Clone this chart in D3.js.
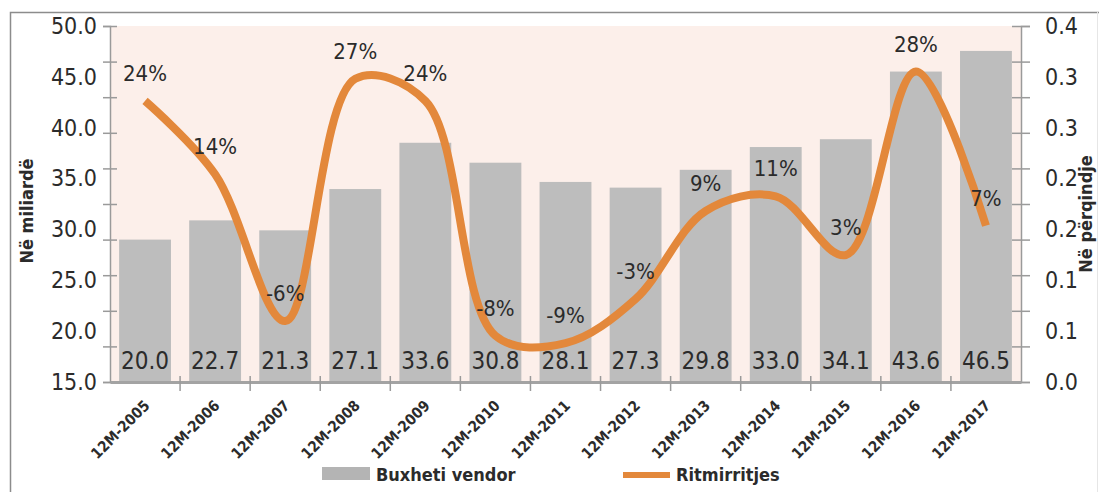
<!DOCTYPE html>
<html>
<head>
<meta charset="utf-8">
<script src="https://cdn.jsdelivr.net/npm/d3@7"></script>
<style>
  body { margin: 0; background: #fff; }
  text { font-family: "DejaVu Sans Condensed", "DejaVu Sans", sans-serif; fill: #2b2b2b; }
</style>
</head>
<body>
<div id="chart"></div>
<script>
// data
const years = ['12M-2005', '12M-2006', '12M-2007', '12M-2008', '12M-2009', '12M-2010', '12M-2011',
  '12M-2012', '12M-2013', '12M-2014', '12M-2015', '12M-2016', '12M-2017'];
const budget = [20.0, 22.7, 21.3, 27.1, 33.6, 30.8, 28.1, 27.3, 29.8, 33.0, 34.1, 43.6, 46.5];
const growth = [0.24, 0.14, -0.06, 0.27, 0.24, -0.08, -0.09, -0.03, 0.09, 0.11, 0.03, 0.28, 0.07];
const leftLabels = [15, 20, 25, 30, 35, 40, 45, 50];
const rightLabels = d3.range(8).map(k => 0.4 * k / 7);

const W = 1099;
const H = 492;
const plot = { left: 110, right: 1021, top: 26, bottom: 382 };

const svg = d3.select('#chart')
  .append('svg')
  .attr('width', W)
  .attr('height', H);

// frame
svg.append('path')
  .attr('d', `M10.5,${H} V12.5 H${W}`)
  .attr('fill', 'none')
  .attr('stroke', '#8c8c8c')
  .attr('stroke-width', 1.5);
svg.append('line')
  .attr('x1', 1097.5).attr('x2', 1097.5)
  .attr('y1', 12).attr('y2', H)
  .attr('stroke', '#e6e6e6');

// plot background
svg.append('rect')
  .attr('x', plot.left)
  .attr('y', plot.top)
  .attr('width', plot.right - plot.left)
  .attr('height', plot.bottom - plot.top)
  .attr('fill', '#fcefea');

// scales
const x = d3.scaleBand()
  .domain(years)
  .range([plot.left, plot.right])
  .paddingInner(0.26)
  .paddingOuter(0.13);

const yBar = d3.scaleLinear().domain([0, 50]).range([plot.bottom, plot.top]);
const yLeft = d3.scaleLinear().domain([15, 50]).range([plot.bottom, plot.top]);
const yRight = d3.scaleLinear().domain([0, 0.4]).range([plot.bottom, plot.top]);
const yLine = d3.scaleLinear().domain([-0.143, 0.342]).range([plot.bottom, plot.top]);

// bars
svg.append('g')
  .selectAll('rect')
  .data(budget)
  .join('rect')
  .attr('x', (d, i) => x(years[i]))
  .attr('y', d => yBar(d))
  .attr('width', x.bandwidth())
  .attr('height', d => yBar(0) - yBar(d))
  .attr('fill', '#bdbdbd');

// bar labels
svg.append('g')
  .selectAll('text')
  .data(budget)
  .join('text')
  .attr('x', (d, i) => x(years[i]) + x.bandwidth() / 2)
  .attr('y', 369)
  .attr('text-anchor', 'middle')
  .style('font-size', '24px')
  .text(d => d.toFixed(1));

// left axis: minor ticks + labels
const leftTicks = svg.append('g')
  .attr('transform', `translate(${plot.left},0)`)
  .call(d3.axisLeft(yLeft)
    .tickValues(d3.range(11).map(k => 15 + 3.5 * k))
    .tickSize(7)
    .tickFormat(''));
leftTicks.selectAll('.tick line').attr('x1', 7).attr('stroke', '#9a9a9a').attr('stroke-width', 1.5);
leftTicks.select('.domain').attr('stroke', '#9a9a9a').attr('stroke-width', 1.5);

const leftAxis = svg.append('g')
  .attr('transform', `translate(${plot.left},0)`)
  .call(d3.axisLeft(yLeft)
    .tickValues(leftLabels)
    .tickSize(0)
    .tickPadding(13)
    .tickFormat(d3.format('.1f')));
leftAxis.select('.domain').remove();
leftAxis.selectAll('text')
  .style('font-size', '23px')
  .style('font-family', '"DejaVu Sans Condensed", sans-serif')
  .attr('fill', '#2b2b2b');

// right axis
const rightTicks = svg.append('g')
  .attr('transform', `translate(${plot.right},0)`)
  .call(d3.axisRight(yRight)
    .tickValues(d3.range(11).map(k => 0.04 * k))
    .tickSize(9)
    .tickFormat(''));
rightTicks.selectAll('.tick line').attr('x1', -9).attr('stroke', '#9a9a9a').attr('stroke-width', 1.5);
rightTicks.select('.domain').attr('stroke', '#9a9a9a').attr('stroke-width', 1.5);

const rightAxis = svg.append('g')
  .attr('transform', `translate(${plot.right},0)`)
  .call(d3.axisRight(yRight)
    .tickValues(rightLabels)
    .tickSize(0)
    .tickPadding(24)
    .tickFormat(d3.format('.1f')));
rightAxis.select('.domain').remove();
rightAxis.selectAll('text')
  .style('font-size', '23px')
  .style('font-family', '"DejaVu Sans Condensed", sans-serif')
  .attr('fill', '#2b2b2b');

// x axis
const xAxis = svg.append('g')
  .attr('transform', `translate(0,${plot.bottom})`)
  .call(d3.axisBottom(x).tickSize(0).tickPadding(0));
xAxis.select('.domain').attr('stroke', '#a3a3a3').attr('stroke-width', 3);
xAxis.selectAll('.tick text')
  .attr('text-anchor', 'end')
  .attr('y', 0)
  .attr('dy', '0.71em')
  .attr('transform', 'translate(-2,17) rotate(-45)')
  .style('font-size', '15px')
  .style('font-weight', 'bold')
  .style('font-family', '"DejaVu Sans Condensed", sans-serif')
  .attr('fill', '#2b2b2b');

// category boundary ticks
svg.append('g')
  .selectAll('line')
  .data(years.slice(1))
  .join('line')
  .attr('x1', d => x(d) - x.step() * x.paddingInner() / 2)
  .attr('x2', d => x(d) - x.step() * x.paddingInner() / 2)
  .attr('y1', plot.bottom - 6)
  .attr('y2', plot.bottom + 9)
  .attr('stroke', '#9a9a9a')
  .attr('stroke-width', 1.5);

// growth line
const line = d3.line()
  .x((d, i) => x(years[i]) + x.bandwidth() / 2)
  .y(d => yLine(d))
  .curve(d3.curveCatmullRom.alpha(0.5));

svg.append('path')
  .datum(growth)
  .attr('d', line)
  .attr('fill', 'none')
  .attr('stroke', '#e3883b')
  .attr('stroke-width', 8);

// growth labels
svg.append('g')
  .selectAll('text')
  .data(growth)
  .join('text')
  .attr('x', (d, i) => x(years[i]) + x.bandwidth() / 2)
  .attr('y', d => yLine(d) - 20)
  .attr('text-anchor', 'middle')
  .style('font-size', '22px')
  .text(d => `${Math.round(d * 100)}%`);

// axis titles
svg.append('text')
  .attr('transform', 'translate(33,211) rotate(-90)')
  .attr('text-anchor', 'middle')
  .style('font-size', '18px')
  .style('font-weight', 'bold')
  .text('Në miliardë');

svg.append('text')
  .attr('transform', 'translate(1092,214) rotate(-90)')
  .attr('text-anchor', 'middle')
  .style('font-size', '18px')
  .style('font-weight', 'bold')
  .text('Në përqindje');

// legend
svg.append('rect')
  .attr('x', 322).attr('y', 467)
  .attr('width', 48).attr('height', 13)
  .attr('fill', '#b4b4b4');
svg.append('text')
  .attr('x', 376).attr('y', 481)
  .style('font-size', '18px')
  .style('font-weight', 'bold')
  .text('Buxheti vendor');

svg.append('line')
  .attr('x1', 623).attr('x2', 670)
  .attr('y1', 475).attr('y2', 475)
  .attr('stroke', '#e3883b')
  .attr('stroke-width', 6);
svg.append('text')
  .attr('x', 676).attr('y', 481)
  .style('font-size', '18px')
  .style('font-weight', 'bold')
  .text('Ritmirritjes');
</script>
</body>
</html>
